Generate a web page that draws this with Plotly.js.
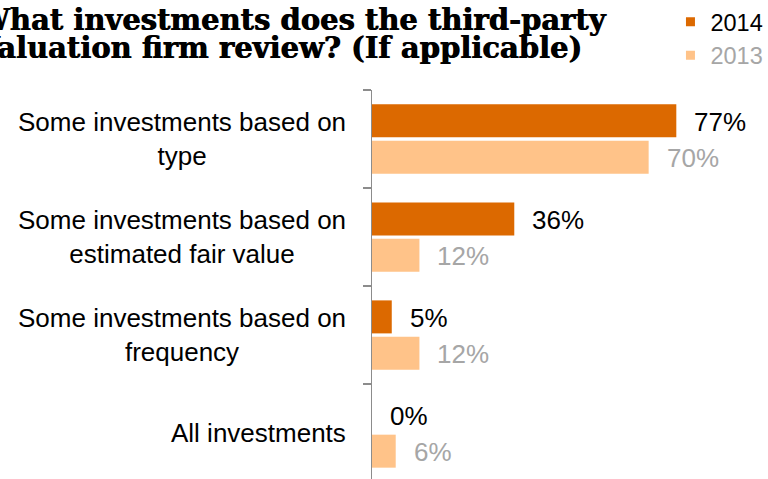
<!DOCTYPE html>
<html>
<head>
<meta charset="utf-8">
<script src="https://cdn.plot.ly/plotly-3.0.1.min.js"></script>
<style>
  html, body { margin: 0; padding: 0; background: #ffffff; }
  #chart { width: 768px; height: 479px; }
</style>
</head>
<body>
<div id="chart"></div>
<script>
// ---- data ----
const categories = [
  'Some investments based on type',
  'Some investments based on estimated fair value',
  'Some investments based on frequency',
  'All investments'
];
const categoryLabels = [
  'Some investments based on<br>type',
  'Some investments based on<br>estimated fair value',
  'Some investments based on<br>frequency',
  'All investments'
];
const values2014 = [77, 36, 5, 0];
const values2013 = [70, 12, 12, 6];
const seriesNames = ['2014', '2013'];
const titleLines = [
  'What investments does the third-party',
  'Valuation firm review? (If applicable)'
];

// ---- styles ----
const SANS = 'Liberation Sans, Arial, sans-serif';
const SERIF = 'DejaVu Serif, Georgia, serif';
const color2014 = '#DC6900';
const color2013 = '#FFC389';
const labelColor2014 = '#000000';
const labelColor2013 = '#A6A6A6';
const axisGray = '#8C8C8C';

const traces = [
  {
    type: 'bar', orientation: 'h', name: seriesNames[0],
    y: categories, x: values2014,
    marker: { color: color2014, line: { width: 0 } },
    showlegend: false, hoverinfo: 'skip'
  },
  {
    type: 'bar', orientation: 'h', name: seriesNames[1],
    y: categories, x: values2013,
    marker: { color: color2013, line: { width: 0 } },
    showlegend: false, hoverinfo: 'skip'
  },
  // legend entries
  {
    type: 'scatter', mode: 'markers', name: seriesNames[0],
    x: [null], y: [null],
    marker: { symbol: 'square', size: 9, color: color2014 },
    showlegend: true, hoverinfo: 'skip'
  },
  {
    type: 'scatter', mode: 'markers',
    name: '<span style="color:' + labelColor2013 + '">' + seriesNames[1] + '</span>',
    x: [null], y: [null],
    marker: { symbol: 'square', size: 9, color: color2013 },
    showlegend: true, hoverinfo: 'skip'
  }
];

const annotations = [];

// title lines
titleLines.forEach(function (t, i) {
  annotations.push({
    xref: 'paper', yref: 'paper', x: 0, y: 1,
    xanchor: 'left', yanchor: 'top',
    xshift: -398, yshift: 89 - i * 28,
    showarrow: false, align: 'left',
    text: '<b>' + t + '</b>',
    font: { family: SERIF, size: 29, color: '#000000', shadow: '0.8px 0 0 #000000' }
  });
});

// category labels (centered multi-line)
categories.forEach(function (c, i) {
  annotations.push({
    xref: 'paper', yref: 'y', x: 0, y: c,
    xanchor: 'right', yanchor: 'middle', xshift: -24,
    showarrow: false, align: 'center',
    text: categoryLabels[i],
    font: { family: SANS, size: 26, color: '#000000' }
  });
});

// value labels
categories.forEach(function (c, i) {
  annotations.push({
    xref: 'x', yref: 'y', x: values2014[i], y: c,
    xanchor: 'left', yanchor: 'middle', xshift: 16, yshift: 17.5,
    showarrow: false,
    text: values2014[i] + '%',
    font: { family: SANS, size: 26, color: labelColor2014 }
  });
  annotations.push({
    xref: 'x', yref: 'y', x: values2013[i], y: c,
    xanchor: 'left', yanchor: 'middle', xshift: 16, yshift: -19,
    showarrow: false,
    text: values2013[i] + '%',
    font: { family: SANS, size: 26, color: labelColor2013 }
  });
});

const layout = {
  width: 768, height: 479,
  margin: { l: 372, r: 0, t: 90, b: 0, pad: 0, autoexpand: false },
  paper_bgcolor: '#ffffff', plot_bgcolor: '#ffffff',
  barmode: 'group', bargap: 0.26, bargroupgap: 0.09,
  font: { family: SANS, color: '#000000' },
  showlegend: true,
  legend: {
    xref: 'container', yref: 'container',
    x: 0.873, y: 1, xanchor: 'left', yanchor: 'top',
    font: { family: SANS, size: 23.5, color: '#000000' },
    bgcolor: 'rgba(0,0,0,0)', borderwidth: 0,
    traceorder: 'normal', itemwidth: 30
  },
  xaxis: {
    range: [0, 100.2], visible: false, fixedrange: true
  },
  yaxis: {
    type: 'category', categoryorder: 'array', categoryarray: categories,
    range: [3.469, -0.5],
    showline: true, linecolor: axisGray, linewidth: 1.5,
    ticks: 'outside', tickson: 'boundaries', ticklen: 8,
    tickwidth: 1.5, tickcolor: axisGray,
    showticklabels: false, showgrid: false, zeroline: false,
    fixedrange: true
  },
  annotations: annotations
};

Plotly.newPlot('chart', traces, layout, { displayModeBar: false, staticPlot: true });
</script>
</body>
</html>
